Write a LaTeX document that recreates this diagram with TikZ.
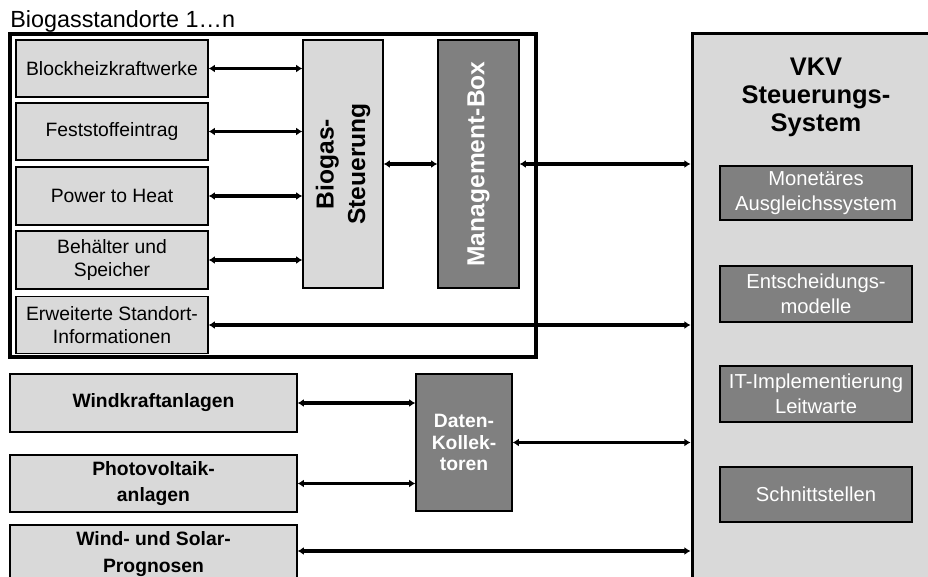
\documentclass[tikz,border=0pt]{standalone}
\usepackage{fontspec}
\setmainfont{Liberation Sans}
\usetikzlibrary{arrows.meta}
\definecolor{lgray}{HTML}{D9D9D9}
\definecolor{dgray}{HTML}{808080}

\begin{document}
\begin{tikzpicture}[
  x=0.02cm,y=-0.02cm,
  box/.style={draw,line width=0.8pt,fill=lgray,align=center,inner sep=0pt,font=\fontsize{11}{13}\selectfont},
  bbox/.style={box,font=\bfseries\fontsize{11}{15}\selectfont},
  dbox/.style={draw,line width=0.8pt,fill=dgray,text=white,align=center,inner sep=0pt,font=\fontsize{11.5}{14}\selectfont},
  bi/.style={{Latex[length=3.5pt,width=4.5pt]}-{Latex[length=3.5pt,width=4.5pt]},line width=1.8pt}
]
\clip (0,0) rectangle (928,577);
\node[anchor=base west,inner sep=0pt,font=\fontsize{13.3}{15}\selectfont] (title) at (10,28) {Biogasstandorte 1…n};
\draw[line width=2.2pt] (10,34) rectangle (536,357);

\node[box,minimum width=3.84cm,minimum height=1.14cm] (bhkw) at (112,68.5) {Blockheizkraftwerke};
\node[box,minimum width=3.84cm,minimum height=1.14cm] (fest) at (112,131.5) {Feststoffeintrag};
\node[box,minimum width=3.84cm,minimum height=1.16cm] (p2h) at (112,196) {Power to Heat};
\node[box,minimum width=3.84cm,minimum height=1.16cm] (beh) at (112,260) {Behälter und\\Speicher};
\node[box,minimum width=3.84cm,minimum height=1.14cm] (erw) at (112,325) {Erweiterte Standort-\\Informationen};

\node[box,minimum width=1.6cm,minimum height=4.96cm] (bst) at (343,164) {};
\node[rotate=90,align=center,font=\bfseries\fontsize{14}{18}\selectfont] (bsttxt) at (bst) {Biogas-\\Steuerung};
\node[dbox,minimum width=1.62cm,minimum height=4.96cm] (mbox) at (478.5,164) {};
\node[rotate=90,text=white,font=\bfseries\fontsize{14}{18}\selectfont] (mboxtxt) at (mbox) {Management-Box};

\node[bbox,minimum width=5.74cm,minimum height=1.16cm] (wind) at (153.5,403) {Windkraftanlagen};
\node[bbox,minimum width=5.74cm,minimum height=1.14cm] (pv) at (153.5,483.5) {Photovoltaik-\\anlagen};
\node[bbox,minimum width=5.74cm,minimum height=1.16cm] (prog) at (153.5,554) {Wind- und Solar-\\Prognosen};
\node[dbox,minimum width=1.92cm,minimum height=2.74cm,font=\bfseries\fontsize{11}{12.2}\selectfont] (dk) at (464,442.5) {Daten-\\Kollek-\\toren};

\node[box,line width=1.7pt,minimum width=4.96cm,minimum height=11.34cm] (vkv) at (816,316.5) {};
\node[align=center,font=\bfseries\fontsize{14.5}{16}\selectfont] (vkvtxt) at (816,97) {VKV\\Steuerungs-\\System};
\node[dbox,minimum width=3.84cm,minimum height=1.08cm] (mon) at (816,193) {Monetäres\\Ausgleichssystem};
\node[dbox,minimum width=3.84cm,minimum height=1.12cm] (ent) at (816,294) {Entscheidungs-\\modelle};
\node[dbox,minimum width=3.84cm,minimum height=1.12cm] (itl) at (816,394) {IT-Implementierung\\Leitwarte};
\node[dbox,minimum width=3.84cm,minimum height=1.1cm] (sch) at (816,494.5) {Schnittstellen};

\draw[bi] (bhkw.east) -- (bhkw.east -| bst.west);
\draw[bi] (fest.east) -- (fest.east -| bst.west);
\draw[bi] (p2h.east) -- (p2h.east -| bst.west);
\draw[bi] (beh.east) -- (beh.east -| bst.west);
\draw[bi] (bst.east) -- (mbox.west);
\draw[bi] (mbox.east) -- (mbox.east -| vkv.west);
\draw[bi] (erw.east) -- (erw.east -| vkv.west);
\draw[bi] (wind.east) -- (wind.east -| dk.west);
\draw[bi] (pv.east) -- (pv.east -| dk.west);
\draw[bi] (dk.east) -- (dk.east -| vkv.west);
\draw[bi] ([yshift=0.06cm]prog.east) -- ([yshift=0.06cm]prog.east -| vkv.west);
\end{tikzpicture}
\end{document}
